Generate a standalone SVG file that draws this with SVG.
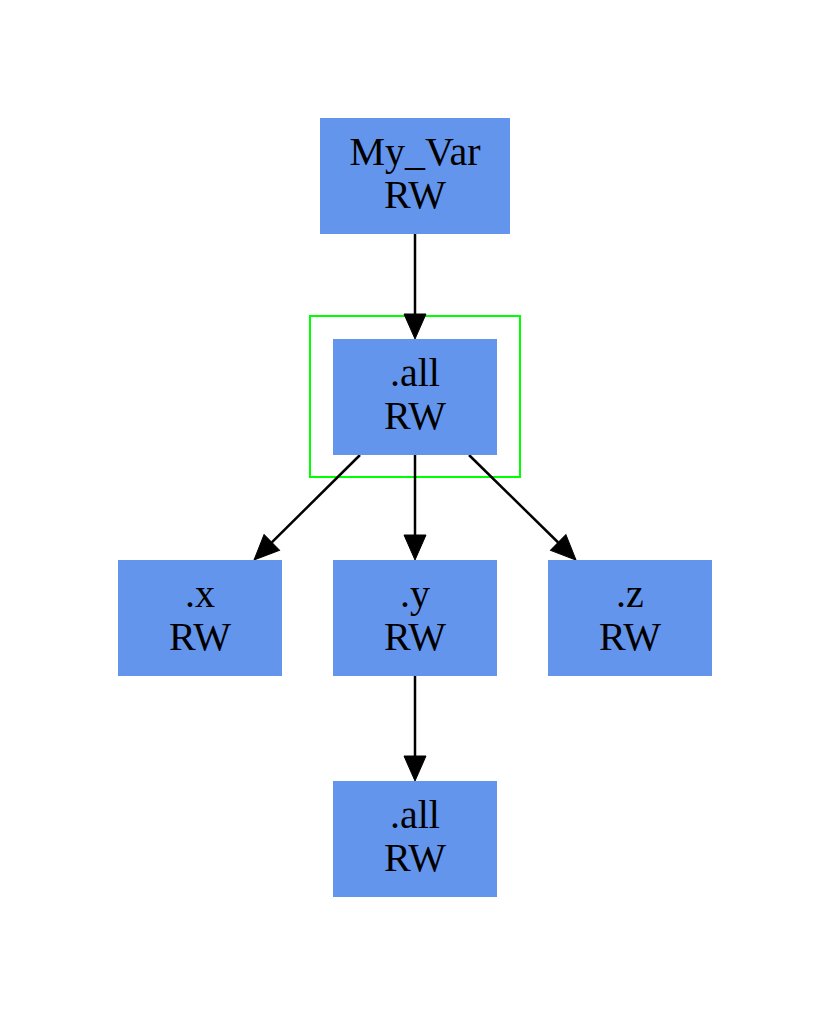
<svg xmlns="http://www.w3.org/2000/svg" width="830" height="1016" viewBox="0 0 830 1016">
<style>
.node rect{fill:#6495ed;stroke:none}
.node text{font-family:"Liberation Serif","Times New Roman",serif;font-size:40px;fill:#000;text-anchor:middle}
.edge{stroke:#000;stroke-width:2.5;fill:none;marker-end:url(#arr)}
</style>
<defs>
<marker id="arr" markerUnits="userSpaceOnUse" orient="auto" viewBox="0 -12 26 24" refX="0" refY="0" markerWidth="26" markerHeight="24" overflow="visible">
<path d="M0,-11 L25,0 L0,11 Z" fill="#000" stroke="#000" stroke-width="1"/>
</marker>
</defs>
<rect width="830" height="1016" fill="#fff"/>
<g id="cluster">
<rect x="310" y="316" width="210" height="161" fill="none" stroke="#00ff00" stroke-width="2"/>
</g>
<g id="connectors">
<line class="edge" x1="415" y1="234" x2="415" y2="314"/>
<line class="edge" x1="360" y1="455" x2="271.8" y2="542.4"/>
<line class="edge" x1="415" y1="455" x2="415" y2="535"/>
<line class="edge" x1="469" y1="455" x2="558.2" y2="542.5"/>
<line class="edge" x1="415" y1="676" x2="415" y2="756"/>
</g>
<g id="n_myvar" class="node"><rect x="320" y="118" width="190" height="116"/><text x="415" y="165">My_Var</text><text x="415" y="208">RW</text></g>
<g id="n_all" class="node"><rect x="333" y="339" width="164" height="116"/><text x="415" y="386">.all</text><text x="415" y="429">RW</text></g>
<g id="n_x" class="node"><rect x="118" y="560" width="164" height="116"/><text x="200" y="607">.x</text><text x="200" y="650">RW</text></g>
<g id="n_y" class="node"><rect x="333" y="560" width="164" height="116"/><text x="415" y="607">.y</text><text x="415" y="650">RW</text></g>
<g id="n_z" class="node"><rect x="548" y="560" width="164" height="116"/><text x="630" y="607">.z</text><text x="630" y="650">RW</text></g>
<g id="n_y_all" class="node"><rect x="333" y="781" width="164" height="116"/><text x="415" y="828">.all</text><text x="415" y="871">RW</text></g>
</svg>
